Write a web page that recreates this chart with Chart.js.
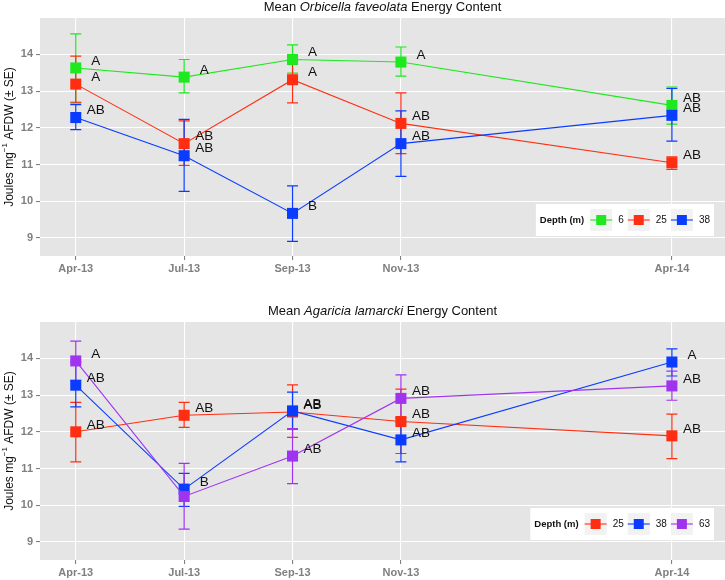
<!DOCTYPE html>
<html>
<head>
<meta charset="utf-8">
<script src="https://cdn.jsdelivr.net/npm/chart.js@4.4.1/dist/chart.umd.min.js"></script>
<style>
  html, body { margin: 0; padding: 0; background: #ffffff; overflow: hidden; }
  #wrap { position: relative; width: 725px; height: 580px; }
  canvas { position: absolute; left: 0; }
</style>
</head>
<body>
<div id="wrap">
  <canvas id="topChart" width="725" height="290" style="top:0px"></canvas>
  <canvas id="bottomChart" width="725" height="276" style="top:304px"></canvas>
</div>
<script>
// sampling dates, placed on a month-like axis (Nov-13 -> Apr-14 is the long gap)
var months = ['Apr-13', 'Jul-13', 'Sep-13', 'Nov-13', 'Apr-14'];
var monthPos = [0, 1, 2, 3, 5.5];
var yTicks = [9, 10, 11, 12, 13, 14];

// Orbicella faveolata, mean and error bar ends (mean +/- SE)
var ofDepths = ['6', '25', '38'];
var of6Mean = [13.63, 13.38, 13.86, 13.79, 12.61];
var of6Lo = [12.70, 12.95, 13.49, 13.41, 12.10];
var of6Hi = [14.56, 13.86, 14.26, 14.20, 13.11];
var of25Mean = [13.19, 11.57, 13.31, 12.12, 11.05];
var of25Lo = [12.68, 10.98, 12.68, 11.30, 10.87];
var of25Hi = [13.95, 12.19, 13.99, 12.95, 11.21];
var of38Mean = [12.28, 11.24, 9.67, 11.57, 12.34];
var of38Lo = [11.95, 10.27, 8.91, 10.68, 11.64];
var of38Hi = [12.63, 12.23, 10.42, 12.46, 13.07];
var of6Letters = ['A', 'A', 'A', 'A', 'AB'];
var of25Letters = ['A', 'AB', 'A', 'AB', 'AB'];
var of38Letters = ['AB', 'AB', 'B', 'AB', 'AB'];

// Agaricia lamarcki
var alDepths = ['25', '38', '63'];
var al25Mean = [12.00, 12.45, 12.54, 12.28, 11.89];
var al25Lo = [11.18, 12.12, 11.85, 11.41, 11.27];
var al25Hi = [12.80, 12.80, 13.28, 13.16, 12.48];
var al38Mean = [13.27, 10.44, 12.57, 11.78, 13.90];
var al38Lo = [12.68, 9.97, 12.07, 11.18, 13.52];
var al38Hi = [13.90, 10.87, 13.08, 12.38, 14.26];
var al63Mean = [13.93, 10.24, 11.34, 12.91, 13.25];
var al63Lo = [13.39, 9.35, 10.59, 12.27, 12.86];
var al63Hi = [14.47, 11.14, 12.09, 13.55, 13.65];
var al25Letters = ['AB', 'AB', 'AB', 'AB', 'AB'];
var al38Letters = ['AB', 'B', 'AB', 'AB', 'A'];
var al63Letters = ['A', '', 'AB', 'AB', 'AB'];

var colGreen = '#1EE81E';
var colRed = '#FF2E12';
var colBlue = '#0A3CFF';
var colPurple = '#A033F0';

var FONT = "'Liberation Sans', Arial, sans-serif";

// grey ggplot-like panel
var panelBg = {
    id: 'panelBg',
    beforeDraw: function (chart) {
        var a = chart.chartArea, ctx = chart.ctx;
        ctx.save();
        ctx.fillStyle = '#E5E5E5';
        ctx.fillRect(a.left, a.top, a.right - a.left, a.bottom - a.top);
        ctx.restore();
    }
};

var errorBars = {
    id: 'errorBars',
    beforeDatasetsDraw: function (chart) {
        var ctx = chart.ctx, xs = chart.scales.x, ys = chart.scales.y;
        chart.data.datasets.forEach(function (ds) {
            ctx.save();
            ctx.strokeStyle = ds.borderColor;
            ctx.lineWidth = 1.2;
            ds.data.forEach(function (p, i) {
                var x = xs.getPixelForValue(p.x);
                var y1 = ys.getPixelForValue(ds.errLo[i]);
                var y2 = ys.getPixelForValue(ds.errHi[i]);
                ctx.beginPath();
                ctx.moveTo(x, y1); ctx.lineTo(x, y2);
                ctx.moveTo(x - 5.5, y1); ctx.lineTo(x + 5.5, y1);
                ctx.moveTo(x - 5.5, y2); ctx.lineTo(x + 5.5, y2);
                ctx.stroke();
            });
            ctx.restore();
        });
    }
};

var letterLabels = {
    id: 'letterLabels',
    afterDatasetsDraw: function (chart) {
        var ctx = chart.ctx;
        ctx.save();
        ctx.font = '13.5px ' + FONT;
        ctx.fillStyle = '#111111';
        ctx.textAlign = 'center';
        ctx.textBaseline = 'middle';
        chart.data.datasets.forEach(function (ds, di) {
            var meta = chart.getDatasetMeta(di);
            meta.data.forEach(function (pt, i) {
                ctx.fillText(ds.letters[i], pt.x + 20, pt.y - 7);
            });
        });
        ctx.restore();
    }
};

var titles = {
    id: 'titles',
    afterDraw: function (chart) {
        var ctx = chart.ctx, a = chart.chartArea;
        var parts = chart.options.plugins.titles.parts;
        ctx.save();
        ctx.fillStyle = '#111111';
        ctx.textBaseline = 'middle';
        ctx.textAlign = 'left';
        var total = 0;
        parts.forEach(function (p) {
            ctx.font = (p.italic ? 'italic ' : '') + '13px ' + FONT;
            p.w = ctx.measureText(p.text).width;
            total += p.w;
        });
        var x = (a.left + a.right) / 2 - total / 2;
        parts.forEach(function (p) {
            ctx.font = (p.italic ? 'italic ' : '') + '13px ' + FONT;
            ctx.fillText(p.text, x, 7);
            x += p.w;
        });

        // y axis title, rotated, with superscript
        var yParts = [
            { text: 'Joules mg', size: 12, rise: 0 },
            { text: '\u22121', size: 8, rise: 5 },
            { text: ' AFDW (\u00B1 SE)', size: 12, rise: 0 }
        ];
        var yw = 0;
        yParts.forEach(function (p) {
            ctx.font = p.size + 'px ' + FONT;
            p.w = ctx.measureText(p.text).width;
            yw += p.w;
        });
        ctx.translate(10, (a.top + a.bottom) / 2);
        ctx.rotate(-Math.PI / 2);
        var yx = -yw / 2;
        yParts.forEach(function (p) {
            ctx.font = p.size + 'px ' + FONT;
            ctx.fillText(p.text, yx, -p.rise);
            yx += p.w;
        });
        ctx.restore();
    }
};

var depthLegend = {
    id: 'depthLegend',
    afterDraw: function (chart) {
        var ctx = chart.ctx;
        var sets = chart.data.datasets;
        var boxRight = 714, boxTop = 204, boxH = 32;
        ctx.save();
        ctx.textBaseline = 'middle';
        ctx.font = 'bold 9.5px ' + FONT;
        var titleW = ctx.measureText('Depth (m)').width;
        ctx.font = '10px ' + FONT;
        var total = 4 + titleW + 6;
        sets.forEach(function (ds) {
            total += 22 + 6 + ctx.measureText(ds.label).width + 4;
        });
        var left = boxRight - total;
        var cy = boxTop + boxH / 2;
        ctx.fillStyle = '#FFFFFF';
        ctx.fillRect(left, boxTop, total, boxH);
        ctx.fillStyle = '#111111';
        ctx.font = 'bold 9.5px ' + FONT;
        ctx.fillText('Depth (m)', left + 4, cy);
        var x = left + 4 + titleW + 6;
        sets.forEach(function (ds) {
            ctx.fillStyle = '#F2F2F2';
            ctx.fillRect(x, cy - 11, 22, 22);
            ctx.strokeStyle = ds.borderColor;
            ctx.lineWidth = 1.1;
            ctx.beginPath();
            ctx.moveTo(x, cy); ctx.lineTo(x + 22, cy);
            ctx.stroke();
            ctx.fillStyle = ds.backgroundColor;
            ctx.fillRect(x + 6, cy - 5, 10, 10);
            ctx.fillStyle = '#111111';
            ctx.font = '10px ' + FONT;
            ctx.fillText(ds.label, x + 28, cy);
            x += 22 + 6 + ctx.measureText(ds.label).width + 4;
        });
        ctx.restore();
    }
};

function series(label, color, means, lo, hi, letters, order) {
    return {
        label: label,
        data: monthPos.map(function (p, i) { return { x: p, y: means[i] }; }),
        errLo: lo,
        errHi: hi,
        letters: letters,
        borderColor: color,
        backgroundColor: color,
        borderWidth: 1.1,
        pointStyle: 'rect',
        pointRadius: 7.8,
        pointBorderWidth: 0,
        tension: 0,
        fill: false,
        order: order
    };
}

function makeChart(id, titleParts, datasets) {
    var canvas = document.getElementById(id);
    var H = canvas.height;
    return new Chart(canvas, {
        type: 'line',
        data: { datasets: datasets },
        plugins: [panelBg, errorBars, letterLabels, titles, depthLegend],
        options: {
            responsive: false,
            animation: false,
            events: [],
            layout: { autoPadding: false, padding: { top: 18, left: 0, right: 0, bottom: 0 } },
            plugins: {
                legend: { display: false },
                tooltip: { enabled: false },
                titles: { parts: titleParts }
            },
            scales: {
                x: {
                    type: 'linear',
                    min: -0.33,
                    max: 5.99,
                    afterBuildTicks: function (s) {
                        s.ticks = monthPos.map(function (v) { return { value: v }; });
                    },
                    afterFit: function (s) {
                        s.height = H - 256;
                        s.paddingLeft = 0;
                        s.paddingRight = 0;
                    },
                    ticks: {
                        autoSkip: false,
                        maxRotation: 0,
                        padding: 2,
                        color: '#808080',
                        font: { family: FONT, size: 11, weight: 'bold' },
                        callback: function (v) { return months[monthPos.indexOf(v)]; }
                    },
                    grid: { color: '#FFFFFF', lineWidth: 1.1, tickColor: '#808080', tickLength: 4 },
                    border: { display: false }
                },
                y: {
                    min: 8.51,
                    max: 14.99,
                    afterBuildTicks: function (s) {
                        s.ticks = yTicks.map(function (v) { return { value: v }; });
                    },
                    afterFit: function (s) {
                        s.width = 40;
                        s.paddingTop = 0;
                        s.paddingBottom = 0;
                    },
                    ticks: {
                        padding: 3,
                        color: '#808080',
                        font: { family: FONT, size: 11, weight: 'bold' }
                    },
                    grid: { color: '#FFFFFF', lineWidth: 1.1, tickColor: '#808080', tickLength: 4 },
                    border: { display: false }
                }
            }
        }
    });
}

makeChart('topChart', [
    { text: 'Mean ', italic: false },
    { text: 'Orbicella faveolata', italic: true },
    { text: ' Energy Content', italic: false }
], [
    series(ofDepths[0], colGreen, of6Mean, of6Lo, of6Hi, of6Letters, 3),
    series(ofDepths[1], colRed, of25Mean, of25Lo, of25Hi, of25Letters, 2),
    series(ofDepths[2], colBlue, of38Mean, of38Lo, of38Hi, of38Letters, 1)
]);

makeChart('bottomChart', [
    { text: 'Mean ', italic: false },
    { text: 'Agaricia lamarcki', italic: true },
    { text: ' Energy Content', italic: false }
], [
    series(alDepths[0], colRed, al25Mean, al25Lo, al25Hi, al25Letters, 3),
    series(alDepths[1], colBlue, al38Mean, al38Lo, al38Hi, al38Letters, 2),
    series(alDepths[2], colPurple, al63Mean, al63Lo, al63Hi, al63Letters, 1)
]);
</script>
</body>
</html>
